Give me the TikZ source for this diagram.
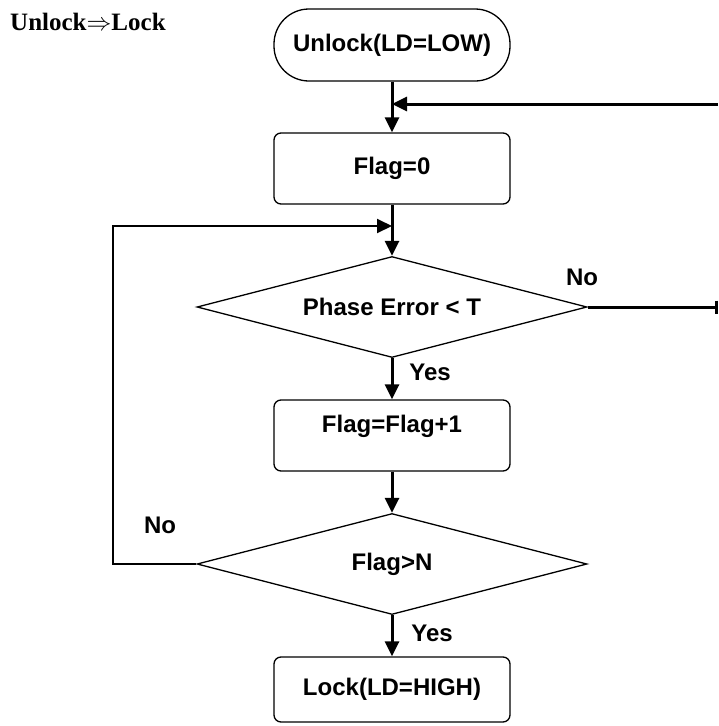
\documentclass[tikz,border=0pt]{standalone}
\usepackage{fontspec}
\setmainfont{Liberation Sans}
\newfontfamily\titlefont{Liberation Serif}
\usetikzlibrary{shapes.geometric,arrows.meta}
\begin{document}
\begin{tikzpicture}[x=1pt,y=-1pt,
  every node/.style={font=\fontsize{24}{28}\selectfont\bfseries},
  procbox/.style={draw,line width=1.3pt,rounded corners=7pt,minimum width=236pt,minimum height=71pt,inner sep=0pt},
  termbox/.style={draw,line width=1.3pt,rounded corners=35pt,minimum width=236pt,minimum height=72pt,inner sep=0pt},
  decision/.style={draw,diamond,shape aspect=3.86,line width=1.3pt,minimum width=390pt,minimum height=101pt,inner sep=0pt},
  flow/.style={line width=3pt,-{Triangle[length=15pt,width=14pt]}},
  loopline/.style={line width=2pt,-{Triangle[length=15pt,width=14pt]}},
  exitline/.style={line width=3pt,-{Bar[width=13pt]}},
  lbl/.style={inner sep=0pt}]
\useasboundingbox (0,0) rectangle (719,726);
\node[anchor=base west,inner sep=0pt,font=\titlefont\fontsize{25}{28}\selectfont\bfseries] (title) at (10,30) {Unlock$\Rightarrow$Lock};
\node[termbox] (term) at (392,45) {Unlock(LD=LOW)};
\node[procbox] (flag0) at (392,168.5) {Flag=0};
\node[decision] (d1) at (392,307) {Phase Error < T};
\node[procbox,text height=18pt,text depth=25pt] (inc) at (392,435.5) {Flag=Flag+1};
\node[decision] (d2) at (392,564) {Flag>N};
\node[procbox,minimum height=65pt] (lock) at (392,689.5) {Lock(LD=HIGH)};
\coordinate (fbR) at (718,104);
\coordinate (fbM) at (392,104);
\coordinate (lpM) at (392,226);
\coordinate (lpTL) at (113,226);
\coordinate (lpBL) at (113,564);
\coordinate (exitR) at (718,307);
\draw[flow] (term.south) -- (flag0.north);
\draw[flow] (fbR) -- (fbM);
\draw[flow] (flag0.south) -- (d1.north);
\draw[loopline] (d2.west) -- (lpBL) -- (lpTL) -- (lpM);
\draw[exitline] (d1.east) -- (exitR);
\draw[flow] (d1.south) -- (inc.north);
\draw[flow] (inc.south) -- (d2.north);
\draw[flow] (d2.south) -- (lock.north);
\node[lbl] (no1) at (582,277) {No};
\node[lbl] (yes1) at (430,372) {Yes};
\node[lbl] (no2) at (160,525) {No};
\node[lbl] (yes2) at (432,633) {Yes};
\end{tikzpicture}
\end{document}
